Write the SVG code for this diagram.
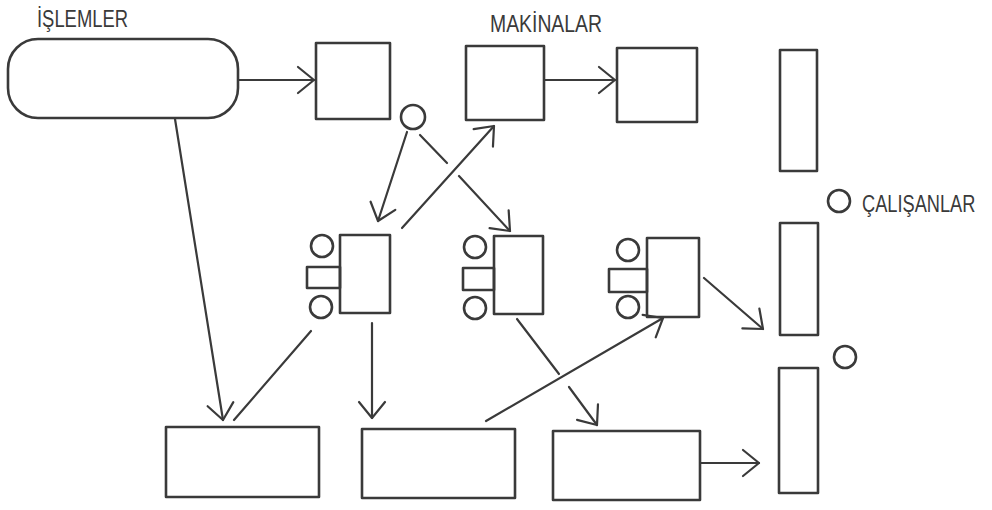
<svg xmlns="http://www.w3.org/2000/svg" width="992" height="510" viewBox="0 0 992 510">
<style>
.b{fill:none;stroke:#3a3a3a;stroke-width:2.6;stroke-linejoin:round}
.c{fill:none;stroke:#3a3a3a;stroke-width:2.2;stroke-linecap:round}
.t{font-family:"Liberation Sans",Arial,sans-serif;font-size:24px;fill:#3a3a3a}
</style>
<defs>
<marker id="ah" markerUnits="userSpaceOnUse" markerWidth="40" markerHeight="40" viewBox="-20 -20 40 40" refX="0" refY="0" orient="auto">
<path d="M-16,-13 L0,0 L-16,13" fill="none" stroke="#3a3a3a" stroke-width="2.2" stroke-linecap="round" stroke-linejoin="round"/>
</marker>
</defs>
<rect width="992" height="510" fill="#fff"/>
<text class="t" x="37" y="27" textLength="91" lengthAdjust="spacingAndGlyphs">İŞLEMLER</text>
<text class="t" x="490" y="32" textLength="112" lengthAdjust="spacingAndGlyphs">MAKİNALAR</text>
<g id="islemler"><rect class="b" x="8" y="39" width="230" height="79" rx="30"/></g>
<g id="box1"><rect class="b" x="316" y="43" width="74" height="76"/></g>
<g id="box2"><rect class="b" x="466" y="46" width="78" height="74"/></g>
<g id="box3"><rect class="b" x="617" y="48" width="80" height="74"/></g>
<g id="circle1"><circle class="b" cx="413" cy="117" r="12"/></g>
<g id="tall1"><rect class="b" x="780" y="50" width="37" height="121"/></g>
<g id="tall2"><rect class="b" x="780" y="223" width="38" height="112"/></g>
<g id="tall3"><rect class="b" x="779" y="368" width="39" height="125"/></g>
<g id="calisanlar"><circle class="b" cx="839" cy="201" r="11"/><text class="t" transform="translate(862,212) scale(0.76,1)" x="0" y="0">ÇALIŞANLAR</text></g>
<g id="circle2"><circle class="b" cx="845" cy="357" r="11"/></g>
<g id="unit1"><circle class="b" cx="322" cy="246" r="11"/><rect class="b" x="307" y="267" width="33" height="21"/><circle class="b" cx="321" cy="307" r="11"/><rect class="b" x="340" y="235" width="50" height="78"/></g>
<g id="unit2"><circle class="b" cx="475" cy="247" r="11"/><rect class="b" x="463" y="268" width="31" height="22"/><circle class="b" cx="475" cy="308" r="11"/><rect class="b" x="494" y="236" width="49" height="78"/></g>
<g id="unit3"><circle class="b" cx="628" cy="250" r="11"/><rect class="b" x="609" y="269" width="38" height="23"/><circle class="b" cx="628" cy="307" r="11"/><rect class="b" x="647" y="238" width="52" height="79"/></g>
<g id="bottomA"><rect class="b" x="166" y="427" width="153" height="70"/></g>
<g id="bottomB"><rect class="b" x="362" y="429" width="153" height="69"/></g>
<g id="bottomC"><rect class="b" x="553" y="431" width="147" height="69"/></g>
<g id="connectors">
<path class="c" d="M238,80 L314,80" marker-end="url(#ah)"/>
<path class="c" d="M544,80 L615,80" marker-end="url(#ah)"/>
<path class="c" d="M407,132 L378,221" marker-end="url(#ah)"/>
<path class="c" d="M402,228 L494,126" marker-end="url(#ah)"/>
<path class="c" d="M420,135 L447,163"/>
<path class="c" d="M459,176 L510,231" marker-end="url(#ah)"/>
<path class="c" d="M175,119 L223,420" marker-end="url(#ah)"/>
<path class="c" d="M311,331 L234,420"/>
<path class="c" d="M372,323 L372,418" marker-end="url(#ah)"/>
<path class="c" d="M486,421 L663,318" marker-end="url(#ah)"/>
<path class="c" d="M517,319 L559,374"/>
<path class="c" d="M569,387 L597,425" marker-end="url(#ah)"/>
<path class="c" d="M704,278 L763,329" marker-end="url(#ah)"/>
<path class="c" d="M700,463 L759,463" marker-end="url(#ah)"/>
</g>
</svg>
